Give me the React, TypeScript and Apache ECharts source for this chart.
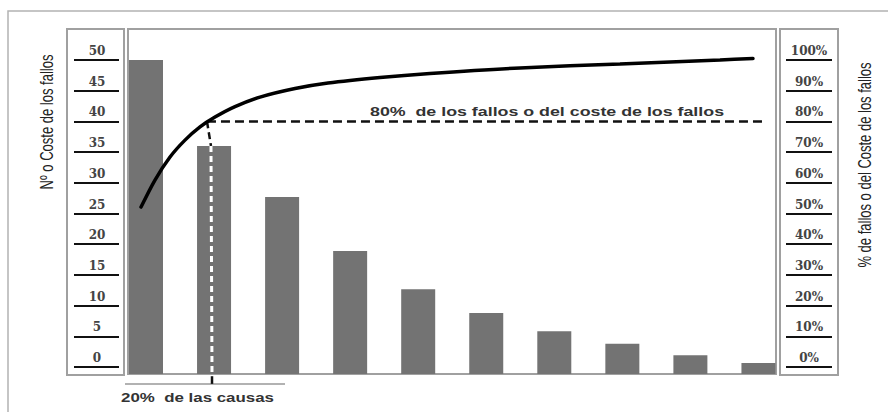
import React, { useEffect, useRef } from "react";
import * as echarts from "echarts";

// Causes (bars), sorted by importance
const causes = [1, 2, 3, 4, 5, 6, 7, 8, 9, 10];
const failures = [50, 36.3, 28.2, 19.6, 13.5, 9.7, 6.8, 4.8, 3.0, 1.75];

// Cumulative curve (x in cause units, y in %)
const cumX = [0.927, 1.132, 1.353, 1.573, 1.794, 2.014, 2.308, 2.675, 3.19, 3.674, 4.439, 5.173, 6.496, 7.965, 9.435, 9.92];
const cumPct = [52.1, 60.9, 68.4, 73.9, 78.2, 81.4, 84.8, 87.9, 90.7, 92.5, 94.3, 95.6, 97.4, 98.7, 100.0, 100.5];

// Tick scales
const countMin = 0, countMax = 50, countStep = 5;
const pctMin = 0, pctMax = 100, pctStep = 10;

// 80/20 annotation (data units)
const threshPct = 80;
const threshLineX = [1.896, 10.096];
const dropX = [1.896, 1.955, 1.97];
const dropPct = [80, 72, -2.3, -3.0, -5.5];

const mainText = "80%  de los fallos o del coste de los fallos";
const causeText = "20%  de las causas";
const leftTitle = "Nº o Coste de los fallos";
const rightTitle = "% de fallos o del Coste de los fallos";

export default function App() {
  const ref = useRef<HTMLDivElement>(null);
  useEffect(() => {
    const chart = echarts.init(ref.current!, null, { renderer: "svg" });
    const xMin = 0.7355, xMax = 10.258;
    const hiddenX = (gi: number) => ({ type: "value", gridIndex: gi, min: xMin, max: xMax, show: false });
    const tickLabel = {
      inside: true,
      margin: 23,
      align: "center",
      verticalAlign: "bottom",
      padding: [0, 0, 3, 0],
      fontFamily: "DejaVu Serif",
      fontWeight: "bold",
      fontSize: 12,
      color: "#444",
    };
    const sans = "'Liberation Sans', Arial, sans-serif";
    const option: any = {
      animation: false,
      backgroundColor: "#fff",
      grid: [
        { left: 128, top: 60, width: 648, height: 314 },
        { left: 128, top: 60, width: 648, height: 307 },
        { left: 74, top: 60, width: 45, height: 307 },
        { left: 786, top: 60, width: 46, height: 307 },
      ],
      xAxis: [
        hiddenX(0),
        hiddenX(1),
        { type: "value", gridIndex: 2, show: false },
        { type: "value", gridIndex: 3, show: false },
      ],
      yAxis: [
        { type: "value", gridIndex: 0, min: countMin, max: countMax, show: false },
        { type: "value", gridIndex: 1, min: pctMin, max: pctMax, show: false },
        {
          type: "value", gridIndex: 2, min: countMin, max: countMax, interval: countStep,
          axisLine: { show: false }, axisTick: { show: false },
          splitLine: { show: true, lineStyle: { color: "#111", width: 2 } },
          axisLabel: { ...tickLabel },
        },
        {
          type: "value", gridIndex: 3, min: pctMin, max: pctMax, interval: pctStep,
          axisLine: { show: false }, axisTick: { show: false },
          splitLine: { show: true, lineStyle: { color: "#111", width: 2 } },
          axisLabel: { ...tickLabel, formatter: "{value}%" },
        },
      ],
      series: [
        {
          type: "bar", xAxisIndex: 0, yAxisIndex: 0, barWidth: 34,
          data: causes.map((c, i) => [c, failures[i]]),
          itemStyle: { color: "#737373" },
          z: 2,
        },
        {
          type: "line", xAxisIndex: 1, yAxisIndex: 1, smooth: 0.3,
          symbol: "none", clip: false,
          data: cumX.map((x, i) => [x, cumPct[i]]),
          lineStyle: { color: "#000", width: 3.5, cap: "round" },
          z: 6,
        },
        {
          type: "line", xAxisIndex: 1, yAxisIndex: 1, symbol: "none", clip: false,
          data: [[threshLineX[0], threshPct], [threshLineX[1], threshPct]],
          lineStyle: { color: "#111", width: 2.5, type: [9, 5] },
          z: 5,
        },
        {
          type: "line", xAxisIndex: 1, yAxisIndex: 1, symbol: "none", clip: false,
          data: [[dropX[0], dropPct[0]], [dropX[1], dropPct[1]]],
          lineStyle: { color: "#111", width: 2.5, type: [7, 4] },
          z: 5,
        },
        {
          type: "line", xAxisIndex: 1, yAxisIndex: 1, symbol: "none", clip: false,
          data: [[dropX[1], dropPct[1]], [dropX[2], dropPct[2]]],
          lineStyle: { color: "#fff", width: 3, type: [6, 4] },
          z: 5,
        },
        {
          type: "line", xAxisIndex: 1, yAxisIndex: 1, symbol: "none", clip: false,
          data: [[dropX[2], dropPct[3]], [dropX[2], dropPct[4]]],
          lineStyle: { color: "#111", width: 2.5 },
          z: 5,
        },
      ],
      graphic: [
        { type: "rect", z: 0, shape: { x: 8, y: 11, width: 900, height: 420 }, style: { fill: "none", stroke: "#b3b3b3", lineWidth: 1.5 } },
        { type: "rect", z: 0, shape: { x: 67, y: 29, width: 57, height: 346 }, style: { fill: "none", stroke: "#a0a0a0", lineWidth: 2 } },
        { type: "rect", z: 0, shape: { x: 128, y: 29, width: 648, height: 345 }, style: { fill: "none", stroke: "#a0a0a0", lineWidth: 2 } },
        { type: "rect", z: 0, shape: { x: 780, y: 29, width: 58, height: 346 }, style: { fill: "none", stroke: "#a0a0a0", lineWidth: 2 } },
        { type: "line", z: 0, shape: { x1: 125, y1: 384, x2: 285, y2: 384 }, style: { stroke: "#999", lineWidth: 1.5 } },
        {
          type: "text", z: 10, x: 370, y: 118, scaleX: 1.37,
          style: { text: mainText, font: `bold 13px ${sans}`, fill: "#333", textAlign: "left", textVerticalAlign: "bottom" },
        },
        {
          type: "text", z: 10, x: 121, y: 397, scaleX: 1.3,
          style: { text: causeText, font: `bold 13px ${sans}`, fill: "#333", textAlign: "left", textVerticalAlign: "middle" },
        },
        {
          type: "text", z: 10, x: 47, y: 122, rotation: Math.PI / 2, scaleY: 1.35,
          style: { text: leftTitle, font: `13px ${sans}`, fill: "#222", textAlign: "center", textVerticalAlign: "middle" },
        },
        {
          type: "text", z: 10, x: 865, y: 165, rotation: Math.PI / 2, scaleY: 1.35,
          style: { text: rightTitle, font: `13px ${sans}`, fill: "#222", textAlign: "center", textVerticalAlign: "middle" },
        },
      ],
    };
    chart.setOption(option);
    return () => chart.dispose();
  }, []);
  return <div ref={ref} style={{ position: "fixed", left: 0, top: 0, width: 888, height: 412 }} />;
}
